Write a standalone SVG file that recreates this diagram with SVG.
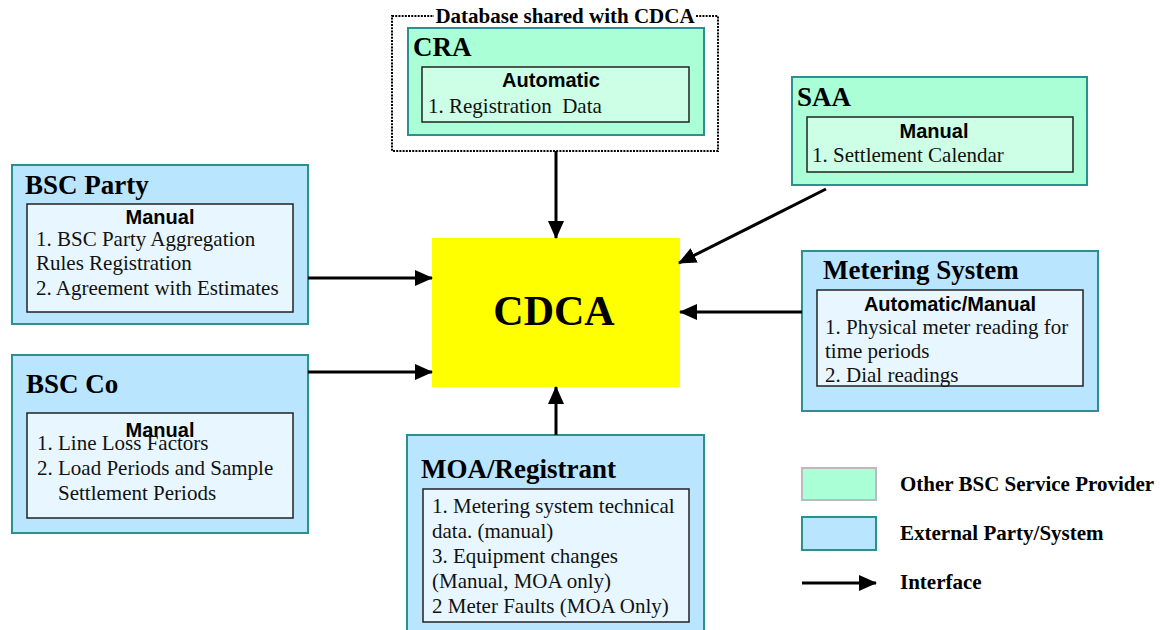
<svg xmlns="http://www.w3.org/2000/svg" width="1160" height="630" viewBox="0 0 1160 630">
<style>
.green{fill:#aaffd6;stroke:#2a9090;stroke-width:2}
.ginner{fill:#ccffe6;stroke:#222;stroke-width:1.5}
.blue{fill:#b9e5ff;stroke:#2a9090;stroke-width:2}
.binner{fill:#e8f7ff;stroke:#222;stroke-width:1.5}
.title{font-family:"Liberation Serif","Times New Roman",serif;font-weight:bold;font-size:27px;fill:#000}
.mode{font-family:"Liberation Sans",Arial,sans-serif;font-weight:bold;font-size:20px;fill:#000;text-anchor:middle}
.item{font-family:"Liberation Serif","Times New Roman",serif;font-size:21px;fill:#111}
.leg{font-family:"Liberation Serif","Times New Roman",serif;font-weight:bold;font-size:21px;fill:#000}
.conn{stroke:#000;stroke-width:3;fill:none;marker-end:url(#ah)}
</style>
<defs>
<marker id="ah" markerUnits="userSpaceOnUse" markerWidth="18" markerHeight="16" refX="17" refY="8" orient="auto">
<path d="M0,0 L18,8 L0,16 Z" fill="#000"/>
</marker>
</defs>
<rect width="1160" height="630" fill="#fff"/>

<g id="shared-db">
<rect x="392" y="16" width="326" height="135" fill="none" stroke="#000" stroke-width="2" stroke-dasharray="2,1.2"/>
<rect x="434" y="6" width="262" height="22" fill="#fff"/>
<text x="565" y="23" class="leg" text-anchor="middle">Database shared with CDCA</text>
</g>

<g id="cra">
<rect x="408" y="28" width="296" height="107" class="green"/>
<text x="413" y="56" class="title">CRA</text>
<rect x="422" y="67" width="267" height="55" class="ginner"/>
<text x="551" y="87" class="mode">Automatic</text>
<text x="428" y="113" class="item" xml:space="preserve">1. Registration  Data</text>
</g>

<g id="saa">
<rect x="792" y="77" width="295" height="108" class="green"/>
<text x="797" y="106" class="title">SAA</text>
<rect x="807" y="117" width="266" height="55" class="ginner"/>
<text x="934" y="138" class="mode">Manual</text>
<text x="812" y="162" class="item">1. Settlement Calendar</text>
</g>

<g id="bsc-party">
<rect x="12" y="165" width="296" height="159" class="blue"/>
<text x="25" y="194" class="title">BSC Party</text>
<rect x="27" y="204" width="266" height="108" class="binner"/>
<text x="160" y="224" class="mode">Manual</text>
<text x="36" y="246" class="item">1. BSC Party Aggregation</text>
<text x="36" y="270" class="item">Rules Registration</text>
<text x="36" y="295" class="item">2. Agreement with Estimates</text>
</g>

<g id="bsc-co">
<rect x="12" y="355" width="296" height="178" class="blue"/>
<text x="26" y="393" class="title">BSC Co</text>
<rect x="27" y="413" width="266" height="105" class="binner"/>
<text x="160" y="437" class="mode">Manual</text>
<text x="37" y="450" class="item">1. Line Loss Factors</text>
<text x="37" y="475" class="item">2. Load Periods and Sample</text>
<text x="58" y="500" class="item">Settlement Periods</text>
</g>

<g id="cdca">
<rect x="432" y="238" width="248" height="149" fill="#ffff00"/>
<text x="554" y="325" text-anchor="middle" font-family="Liberation Serif,'Times New Roman',serif" font-weight="bold" font-size="42">CDCA</text>
</g>

<g id="metering">
<rect x="802" y="251" width="296" height="160" class="blue"/>
<text x="823" y="279" class="title">Metering System</text>
<rect x="817" y="290" width="266" height="96" class="binner"/>
<text x="950" y="311" class="mode">Automatic/Manual</text>
<text x="825" y="334" class="item">1. Physical meter reading for</text>
<text x="825" y="358" class="item">time periods</text>
<text x="825" y="382" class="item">2. Dial readings</text>
</g>

<g id="moa">
<rect x="407" y="435" width="297" height="200" class="blue"/>
<text x="421" y="478" class="title">MOA/Registrant</text>
<rect x="423" y="489" width="266" height="133" class="binner"/>
<text x="432" y="513" class="item">1. Metering system technical</text>
<text x="432" y="538" class="item">data. (manual)</text>
<text x="432" y="563" class="item">3. Equipment changes</text>
<text x="432" y="588" class="item">(Manual, MOA only)</text>
<text x="432" y="613" class="item">2 Meter Faults (MOA Only)</text>
</g>

<g id="connectors">
<line x1="556" y1="151" x2="556" y2="238" class="conn"/>
<line x1="826" y1="189" x2="679" y2="263" class="conn"/>
<line x1="308" y1="278" x2="432" y2="278" class="conn"/>
<line x1="308" y1="372" x2="432" y2="372" class="conn"/>
<line x1="802" y1="312" x2="680" y2="312" class="conn"/>
<line x1="556" y1="435" x2="556" y2="387" class="conn"/>
</g>

<g id="legend">
<rect x="802" y="468" width="74" height="32" fill="#aaffd6" stroke="#bbbbbb" stroke-width="2"/>
<text x="900" y="491" class="leg">Other BSC Service Provider</text>
<rect x="802" y="517" width="74" height="33" fill="#b9e5ff" stroke="#2a9090" stroke-width="2"/>
<text x="900" y="540" class="leg">External Party/System</text>
<line x1="802" y1="583" x2="876" y2="583" class="conn"/>
<text x="900" y="589" class="leg">Interface</text>
</g>
</svg>
